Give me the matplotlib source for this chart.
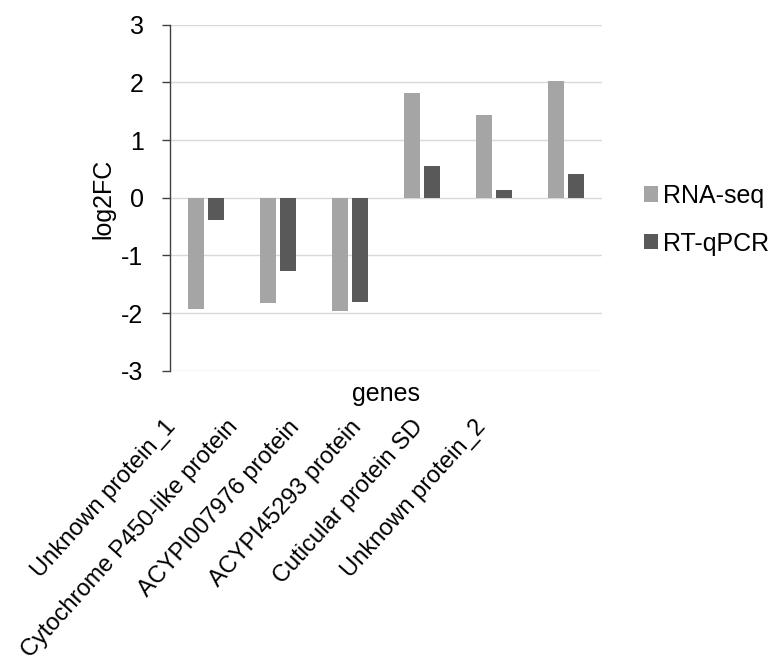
import numpy as np
import matplotlib.pyplot as plt

plt.rcParams['font.family'] = ['Liberation Sans', 'DejaVu Sans']

genes = ['Unknown protein_1', 'Cytochrome P450-like protein', 'ACYPI007976 protein',
         'ACYPI45293 protein', 'Cuticular protein SD', 'Unknown protein_2']
rna_seq = [-1.93, -1.83, -1.97, 1.81, 1.43, 2.03]
rt_qpcr = [-0.38, -1.27, -1.81, 0.55, 0.14, 0.41]
yticks = [-3, -2, -1, 0, 1, 2, 3]

W, H = 773, 669
fs = 18
fig = plt.figure(figsize=(W / 100, H / 100), dpi=100)
# axes box in pixels: x 170..602, y 24.7..370.7 (from top)
ax = fig.add_axes([170 / W, 1 - 370.7 / H, 432 / W, 346 / H])

x = np.arange(len(genes))
bw = 0.222
ax.bar(x - 0.143, rna_seq, bw, color='#a5a5a5', label='RNA-seq', zorder=3)
ax.bar(x + 0.143, rt_qpcr, bw, color='#595959', label='RT-qPCR', zorder=3)

ax.set_xlim(-0.5, len(genes) - 0.5)
ax.set_ylim(-3, 3)
ax.set_yticks(yticks)
ax.set_yticklabels([str(v) for v in yticks])
ax.set_xticks([])
ax.yaxis.grid(True, color='#d9d9d9', linewidth=1.0, zorder=0)
ax.set_axisbelow(True)
for s in ['top', 'right', 'bottom']:
    ax.spines[s].set_visible(False)
ax.spines['left'].set_color('#404040')
ax.spines['left'].set_linewidth(1.0)
ax.tick_params(axis='y', length=6, width=1.0, color='#404040', pad=13, labelsize=fs)

fig.text(103 / W, 1 - 198.5 / H, 'log2FC', rotation=90, ha='center', va='center', fontsize=fs)
fig.text(386 / W, 1 - 394 / H, 'genes', ha='center', va='center', fontsize=fs)

# rotated category labels below the axis title
for i, g in enumerate(genes):
    fig.text((180 + 62 * i) / W, 1 - 416 / H, g, rotation=48, ha='right', va='top', fontsize=17)

ax.legend(loc='center left', bbox_to_anchor=(644 / W, 1 - 219.7 / H), bbox_transform=fig.transFigure,
          frameon=False, fontsize=fs, handlelength=0.55, handleheight=0.55, handletextpad=0.2,
          labelspacing=0.95, borderaxespad=0, borderpad=0)

fig.savefig('out.png', dpi=100)
